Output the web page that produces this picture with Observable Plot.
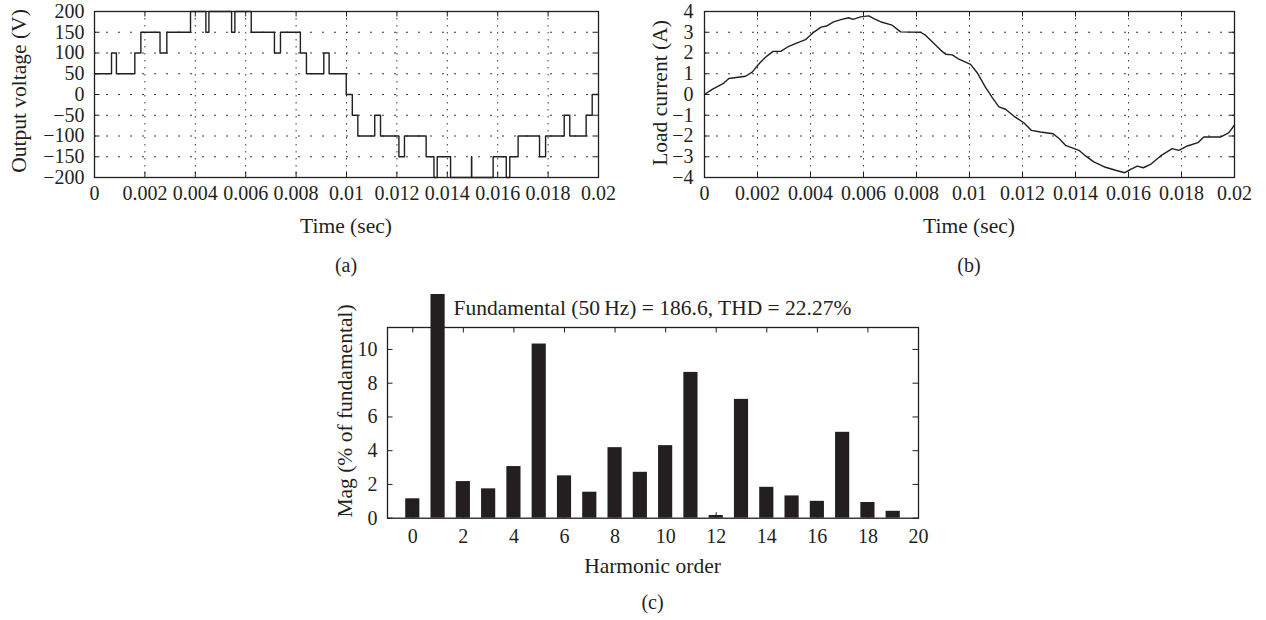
<!DOCTYPE html>
<html>
<head>
<meta charset="utf-8">
<script src="https://cdn.jsdelivr.net/npm/d3@7"></script>
<script src="https://cdn.jsdelivr.net/npm/@observablehq/plot@0.6"></script>
<style>
  html, body { margin: 0; padding: 0; background: #fff; }
  #root { position: relative; width: 1266px; height: 620px; overflow: hidden; background: #fff;
          font-family: "Liberation Serif", "Times New Roman", serif; color: #231f20; }
  .panel { position: absolute; }
  .lbl { position: absolute; line-height: 1; white-space: nowrap; }
</style>
</head>
<body>
<div id="root"></div>
<script>
// ---------- data ----------
// (a) inverter output voltage: switching instants (s) and the level held from that instant (V)
const voltTimes = [0, 0.000675, 0.00087, 0.0016, 0.00184, 0.0026, 0.00287, 0.00381, 0.00442, 0.00454,
  0.00544, 0.00557, 0.00622, 0.00714, 0.00738, 0.00817, 0.00841, 0.0091, 0.00931, 0.00999,
  0.01023, 0.01045, 0.01112, 0.01135, 0.01208, 0.0123, 0.01316, 0.01347, 0.0136, 0.01413,
  0.01496, 0.01497, 0.01582, 0.01634, 0.01648, 0.01681, 0.01766, 0.0179, 0.01864, 0.01886,
  0.01951, 0.01975, 0.02];
const voltLevels = [50, 100, 50, 100, 150, 100, 150, 200, 150, 200,
  150, 200, 150, 100, 150, 100, 50, 100, 50, 0,
  -50, -100, -50, -100, -150, -100, -150, -200, -150, -200,
  -150, -200, -150, -200, -150, -100, -150, -100, -50, -100,
  -50, 0, 0];

// (b) load current samples
const currTimes = [0, 0.00029, 0.0007, 0.00092, 0.00155, 0.0018, 0.00205, 0.00234, 0.00259, 0.00287,
  0.00314, 0.0035, 0.00381, 0.0041, 0.0044, 0.0046, 0.00487, 0.00515, 0.00544, 0.0056,
  0.00589, 0.0062, 0.00639, 0.0067, 0.00708, 0.0074, 0.00815, 0.00834, 0.00866, 0.00891,
  0.0091, 0.00935, 0.0096, 0.01004, 0.01029, 0.0106, 0.01086, 0.01111, 0.01136, 0.01167,
  0.01205, 0.01234, 0.01268, 0.01316, 0.01341, 0.01362, 0.01413, 0.01438, 0.01469, 0.01507,
  0.01551, 0.01586, 0.01608, 0.01633, 0.01656, 0.01683, 0.01721, 0.01765, 0.0179, 0.01822,
  0.01862, 0.01884, 0.01947, 0.01979, 0.02];
const currValues = [0, 0.25, 0.52, 0.77, 0.88, 1.08, 1.47, 1.84, 2.08, 2.08,
  2.29, 2.49, 2.64, 2.98, 3.25, 3.3, 3.5, 3.61, 3.7, 3.62,
  3.74, 3.79, 3.66, 3.48, 3.34, 3.02, 3.0, 2.86, 2.46, 2.14,
  1.94, 1.91, 1.7, 1.45, 1.05, 0.36, -0.15, -0.6, -0.71, -1.04,
  -1.36, -1.73, -1.81, -1.89, -2.16, -2.45, -2.69, -2.96, -3.25, -3.48,
  -3.65, -3.77, -3.61, -3.45, -3.53, -3.37, -2.96, -2.61, -2.69, -2.48,
  -2.32, -2.05, -2.05, -1.84, -1.47];

// (c) harmonic spectrum (% of fundamental)
const harmonicOrders = [0, 1, 2, 3, 4, 5, 6, 7, 8, 9, 10, 11, 12, 13, 14, 15, 16, 17, 18, 19];
const harmonicMags = [1.15, 100, 2.17, 1.74, 3.06, 10.32, 2.51, 1.54, 4.18, 2.72,
  4.3, 8.64, 0.16, 7.04, 1.83, 1.32, 1.0, 5.09, 0.93, 0.41];

// tick values
const timeTicks = [0, 0.002, 0.004, 0.006, 0.008, 0.01, 0.012, 0.014, 0.016, 0.018, 0.02];
const voltTicks = [-200, -150, -100, -50, 0, 50, 100, 150, 200];
const currTicks = [-4, -3, -2, -1, 0, 1, 2, 3, 4];
const harmXTicks = [0, 2, 4, 6, 8, 10, 12, 14, 16, 18, 20];
const harmYTicks = [0, 2, 4, 6, 8, 10];

// ---------- style ----------
const INK = "#231f20";
const GRID = "#3a3a3a";
const FONT = "'Liberation Serif', 'Times New Roman', serif";
const TL = 5.5; // inward tick length

const fmtTime = d => d === 0 ? "0" : String(+d.toFixed(3));
const fmtSigned = d => d < 0 ? "\u2212" + (-d) : String(d);

const root = document.getElementById("root");

function place(svg, left, top) {
  const wrap = document.createElement("div");
  wrap.className = "panel";
  wrap.style.left = left + "px";
  wrap.style.top = top + "px";
  wrap.appendChild(svg);
  root.appendChild(wrap);
}
function label(text, x, y, size, rotate) {
  const d = document.createElement("div");
  d.className = "lbl";
  d.textContent = text;
  d.style.left = x + "px";
  d.style.top = y + "px";
  d.style.fontSize = size + "px";
  d.style.transform = "translate(-50%,-50%)" + (rotate ? " rotate(-90deg)" : "");
  root.appendChild(d);
}

function innerTicks(xt, yt, fw, fh) {
  return [
    Plot.tickX(xt, {x: d => d, insetTop: fh - TL, stroke: INK, strokeWidth: 1}),
    Plot.tickX(xt, {x: d => d, insetBottom: fh - TL, stroke: INK, strokeWidth: 1}),
    Plot.tickY(yt, {y: d => d, insetRight: fw - TL, stroke: INK, strokeWidth: 1}),
    Plot.tickY(yt, {y: d => d, insetLeft: fw - TL, stroke: INK, strokeWidth: 1})
  ];
}
function dottedGrid(xt, yt) {
  return [
    Plot.ruleY(yt.slice(1, -1), {y: d => d, stroke: GRID, strokeWidth: 1, strokeDasharray: "2,10"}),
    Plot.ruleX(xt.slice(1, -1), {x: d => d, stroke: GRID, strokeWidth: 1, strokeDasharray: "1.5,5.5"})
  ];
}

// ---------- (a) output voltage ----------
const voltData = voltTimes.map((t, i) => ({t, v: voltLevels[i]}));
{
  const W = 640, H = 210, mL = 94, mR = 42, mT = 11, mB = 33;
  const svg = Plot.plot({
    width: W, height: H, marginLeft: mL, marginRight: mR, marginTop: mT, marginBottom: mB,
    style: {fontFamily: FONT, fontSize: "20px", color: INK, background: "transparent", overflow: "visible"},
    x: {domain: [0, 0.02], ticks: timeTicks, tickFormat: fmtTime, tickSize: 0, tickPadding: 8, label: null},
    y: {domain: [-200, 200], ticks: voltTicks, tickFormat: fmtSigned, tickSize: 0, tickPadding: 10, label: null},
    marks: [
      ...dottedGrid(timeTicks, voltTicks),
      Plot.line(voltData, {x: "t", y: "v", curve: "step-after", stroke: INK, strokeWidth: 1.4}),
      ...innerTicks(timeTicks, voltTicks, W - mL - mR, H - mT - mB),
      Plot.frame({stroke: INK, strokeWidth: 1.3})
    ]
  });
  place(svg, 0, 0);
}

// ---------- (b) load current ----------
const currData = currTimes.map((t, i) => ({t, a: currValues[i]}));
{
  const W = 626, H = 210, mL = 64, mR = 32, mT = 11, mB = 33;
  const svg = Plot.plot({
    width: W, height: H, marginLeft: mL, marginRight: mR, marginTop: mT, marginBottom: mB,
    style: {fontFamily: FONT, fontSize: "20px", color: INK, background: "transparent", overflow: "visible"},
    x: {domain: [0, 0.02], ticks: timeTicks, tickFormat: fmtTime, tickSize: 0, tickPadding: 8, label: null},
    y: {domain: [-4, 4], ticks: currTicks, tickFormat: fmtSigned, tickSize: 0, tickPadding: 11, label: null},
    marks: [
      ...dottedGrid(timeTicks, currTicks),
      Plot.line(currData, {x: "t", y: "a", stroke: INK, strokeWidth: 1.4}),
      ...innerTicks(timeTicks, currTicks, W - mL - mR, H - mT - mB),
      Plot.frame({stroke: INK, strokeWidth: 1.3})
    ]
  });
  place(svg, 640, 0);
}

// ---------- (c) harmonic spectrum ----------
const harmData = harmonicOrders.map((h, i) => ({h, m: harmonicMags[i]}));
{
  const W = 700, H = 260, mL = 87, mR = 82, mT = 33, mB = 36.3;
  const BAR_HALF = 0.28;
  const svg = Plot.plot({
    width: W, height: H, marginLeft: mL, marginRight: mR, marginTop: mT, marginBottom: mB,
    style: {fontFamily: FONT, fontSize: "20px", color: INK, background: "transparent", overflow: "hidden"},
    x: {domain: [-1, 20], ticks: harmXTicks, tickFormat: d => String(d), tickSize: 0, tickPadding: 11, label: null},
    y: {domain: [0, 11.3], ticks: harmYTicks, tickFormat: d => String(d), tickSize: 0, tickPadding: 10, label: null},
    marks: [
      Plot.rectY(harmData, {x1: d => d.h - BAR_HALF, x2: d => d.h + BAR_HALF, y: "m", fill: INK}),
      ...innerTicks(harmXTicks, harmYTicks, W - mL - mR, H - mT - mB),
      Plot.frame({stroke: INK, strokeWidth: 1.3})
    ]
  });
  place(svg, 300, 294);
}

// ---------- titles & captions ----------
label("Output voltage (V)", 20, 91, 21.5, true);
label("Time (sec)", 346, 227, 21.5);
label("(a)", 346, 265, 20);
label("Load current (A)", 661, 93, 21.5, true);
label("Time (sec)", 969, 227, 21.5);
label("(b)", 969, 265, 20);
label("Fundamental (50\u2009Hz) = 186.6, THD = 22.27%", 652.5, 309, 21.5);
label("Mag (% of fundamental)", 346, 411, 21.5, true);
label("Harmonic order", 652.5, 567, 21.5);
label("(c)", 652.5, 602, 20);
</script>
</body>
</html>
